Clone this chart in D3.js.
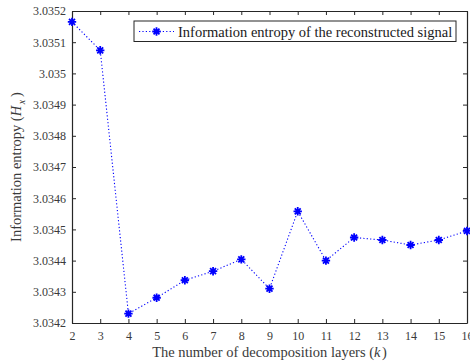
<!DOCTYPE html>
<html>
<head>
<meta charset="utf-8">
<script src="https://cdn.jsdelivr.net/npm/d3@7"></script>
<style>
  html, body { margin: 0; padding: 0; background: #fff; }
  svg { display: block; }
  text { font-family: "Liberation Serif", "Times New Roman", serif; }
</style>
</head>
<body>
<svg id="chart" width="470" height="363"></svg>
<script>
// Decomposition layers and entropy of the reconstructed signal
const layers = [2, 3, 4, 5, 6, 7, 8, 9, 10, 11, 12, 13, 14, 15, 16];
const entropy = [3.035165, 3.035074, 3.034230, 3.034281, 3.034337, 3.034366, 3.034404,
                 3.034310, 3.034558, 3.034400, 3.034474, 3.034466, 3.034450, 3.034466, 3.034495];
const xTicks = [2, 3, 4, 5, 6, 7, 8, 9, 10, 11, 12, 13, 14, 15, 16];
const yTicks = [3.0342, 3.0343, 3.0344, 3.0345, 3.0346, 3.0347, 3.0348, 3.0349, 3.035, 3.0351, 3.0352];
const seriesName = "Information entropy of the reconstructed signal";

const svg = d3.select("#chart");
const m = { left: 72, right: 467, top: 11, bottom: 323 };

const x = d3.scaleLinear().domain([2, 16]).range([m.left, m.right]);
const y = d3.scaleLinear().domain([3.0342, 3.0352]).range([m.bottom, m.top]);

const serif = "'Liberation Serif', 'Times New Roman', serif";
const axisColor = "#262626";
const labelColor = "#3a3a3a";
const tickLen = 4;
const fmtY = d => d3.format(".4~f")(d);

// Axes with inward ticks on all four sides
const gBottom = svg.append("g").attr("transform", `translate(0,${m.bottom})`)
  .call(d3.axisBottom(x).tickValues(xTicks).tickFormat(d3.format("d")).tickSizeInner(-tickLen).tickSizeOuter(0).tickPadding(8));
const gTop = svg.append("g").attr("transform", `translate(0,${m.top})`)
  .call(d3.axisTop(x).tickValues(xTicks).tickFormat("").tickSizeInner(-tickLen).tickSizeOuter(0));
const gLeft = svg.append("g").attr("transform", `translate(${m.left},0)`)
  .call(d3.axisLeft(y).tickValues(yTicks).tickFormat(fmtY).tickSizeInner(-tickLen).tickSizeOuter(0).tickPadding(6));
const gRight = svg.append("g").attr("transform", `translate(${m.right},0)`)
  .call(d3.axisRight(y).tickValues(yTicks).tickFormat("").tickSizeInner(-tickLen).tickSizeOuter(0));

[gBottom, gTop, gLeft, gRight].forEach(g => {
  g.attr("font-family", serif).attr("font-size", 12);
  g.select(".domain").attr("stroke", axisColor).attr("stroke-width", 1.2);
  g.selectAll(".tick line").attr("stroke", axisColor).attr("stroke-width", 1);
  g.selectAll(".tick text").attr("fill", labelColor)
    .style("font-size", "12px").style("font-family", serif);
});

// Dotted series line
const line = d3.line().x((d, i) => x(layers[i])).y(d => y(d));
svg.append("path")
  .datum(entropy)
  .attr("d", line)
  .attr("fill", "none")
  .attr("stroke", "#0000ff")
  .attr("stroke-width", 1.1)
  .attr("stroke-dasharray", "1.2,2.2");

// Asterisk marker (+ and x combined)
function asterisk(r) {
  const d = r * Math.SQRT1_2;
  return `M${-r},0L${r},0M0,${-r}L0,${r}M${-d},${-d}L${d},${d}M${-d},${d}L${d},${-d}`;
}
svg.append("g").selectAll("path")
  .data(entropy)
  .join("path")
  .attr("transform", (d, i) => `translate(${x(layers[i])},${y(d)})`)
  .attr("d", asterisk(4.2))
  .attr("fill", "none")
  .attr("stroke", "#0000ff")
  .attr("stroke-width", 1.8);

// Axis titles
svg.append("text")
  .attr("x", (m.left + m.right) / 2)
  .attr("y", 357)
  .attr("text-anchor", "middle")
  .attr("fill", labelColor)
  .style("font-size", "14.5px")
  .call(t => {
    t.append("tspan").text("The number of decomposition layers (");
    t.append("tspan").attr("font-style", "italic").text("k");
    t.append("tspan").attr("dx", 1.5).text(")");
  });

svg.append("text")
  .attr("transform", `translate(21,${(m.top + m.bottom) / 2}) rotate(-90)`)
  .attr("text-anchor", "middle")
  .attr("fill", labelColor)
  .style("font-size", "14.5px")
  .call(t => {
    t.append("tspan").text("Information entropy (");
    t.append("tspan").attr("font-style", "italic").text("H");
    t.append("tspan").attr("font-style", "italic").attr("dx", 1.5).attr("dy", 4).style("font-size", "10px").text("x");
    t.append("tspan").attr("dx", 3).attr("dy", -4).text(")");
  });

// Legend
const lg = svg.append("g");
lg.append("rect")
  .attr("x", 134).attr("y", 21).attr("width", 322).attr("height", 20.5)
  .attr("fill", "#fff").attr("stroke", axisColor).attr("stroke-width", 1);
lg.append("line")
  .attr("x1", 139).attr("x2", 174).attr("y1", 31.5).attr("y2", 31.5)
  .attr("stroke", "#0000ff").attr("stroke-width", 1.1).attr("stroke-dasharray", "1.2,2.2");
lg.append("path")
  .attr("transform", "translate(156.5,31.5)")
  .attr("d", asterisk(4.2))
  .attr("fill", "none").attr("stroke", "#0000ff").attr("stroke-width", 1.8);
lg.append("text")
  .attr("x", 178).attr("y", 36.5)
  .attr("fill", "#1a1a1a")
  .style("font-size", "14.5px")
  .text(seriesName);
</script>
</body>
</html>
